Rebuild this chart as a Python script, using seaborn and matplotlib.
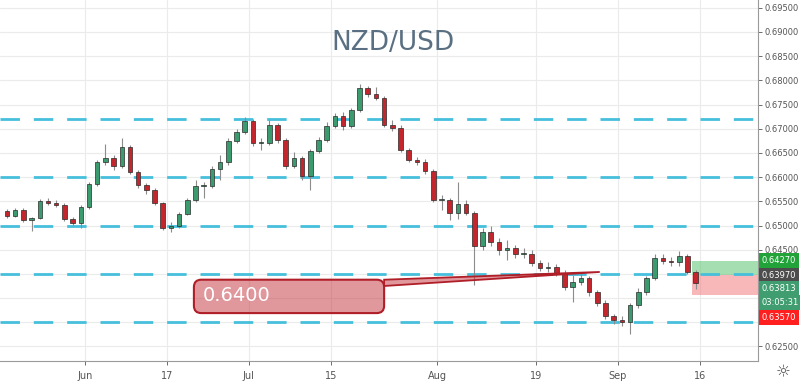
import numpy as np
import pandas as pd
import matplotlib
matplotlib.use("Agg")
import matplotlib.pyplot as plt
import matplotlib.transforms as mtransforms
from matplotlib.patches import FancyBboxPatch, Polygon, Rectangle
from matplotlib.ticker import MultipleLocator, FuncFormatter
import seaborn as sns

# daily NZD/USD candles, 2019-05-20 .. 2019-09-13 (trading days only)
opens = [0.6530, 0.6520, 0.6532, 0.6512, 0.6516, 0.6551, 0.6547, 0.6543, 0.6514, 0.6505,
         0.6538, 0.6586, 0.6631, 0.6640, 0.6623, 0.6662, 0.6611, 0.6584, 0.6574, 0.6547,
         0.6495, 0.6499, 0.6524, 0.6553, 0.6582, 0.6582, 0.6617, 0.6631, 0.6675, 0.6693,
         0.6716, 0.6671, 0.6671, 0.6708, 0.6677, 0.6623, 0.6640, 0.6602, 0.6654, 0.6677,
         0.6706, 0.6726, 0.6706, 0.6739, 0.6784, 0.6772, 0.6764, 0.6708, 0.6702, 0.6656,
         0.6636, 0.6631, 0.6613, 0.6553, 0.6553, 0.6526, 0.6545, 0.6526, 0.6458, 0.6487,
         0.6466, 0.6450, 0.6454, 0.6441, 0.6441, 0.6423, 0.6412, 0.6414, 0.6400, 0.6373,
         0.6383, 0.6392, 0.6363, 0.6340, 0.6313, 0.6305, 0.6301, 0.6336, 0.6363, 0.6392,
         0.6433, 0.6427, 0.6425, 0.6437, 0.6404]
highs = [0.6534, 0.6536, 0.6536, 0.6518, 0.6555, 0.6557, 0.6553, 0.6547, 0.6518, 0.6543,
         0.6590, 0.6636, 0.6669, 0.6646, 0.6681, 0.6667, 0.6615, 0.6588, 0.6578, 0.6549,
         0.6507, 0.6528, 0.6557, 0.6594, 0.6590, 0.6623, 0.6646, 0.6681, 0.6700, 0.6724,
         0.6720, 0.6681, 0.6718, 0.6712, 0.6681, 0.6652, 0.6644, 0.6658, 0.6683, 0.6714,
         0.6733, 0.6735, 0.6743, 0.6793, 0.6788, 0.6786, 0.6768, 0.6718, 0.6708, 0.6660,
         0.6642, 0.6638, 0.6617, 0.6563, 0.6557, 0.6590, 0.6553, 0.6530, 0.6495, 0.6499,
         0.6474, 0.6470, 0.6460, 0.6454, 0.6450, 0.6429, 0.6425, 0.6421, 0.6408, 0.6398,
         0.6404, 0.6396, 0.6367, 0.6346, 0.6317, 0.6313, 0.6340, 0.6371, 0.6396, 0.6441,
         0.6441, 0.6435, 0.6448, 0.6441, 0.6408]
lows = [0.6516, 0.6518, 0.6507, 0.6489, 0.6514, 0.6543, 0.6538, 0.6510, 0.6501, 0.6495,
        0.6534, 0.6582, 0.6625, 0.6615, 0.6619, 0.6607, 0.6578, 0.6565, 0.6543, 0.6491,
        0.6487, 0.6495, 0.6522, 0.6549, 0.6557, 0.6578, 0.6594, 0.6625, 0.6671, 0.6689,
        0.6664, 0.6656, 0.6667, 0.6671, 0.6617, 0.6619, 0.6594, 0.6574, 0.6650, 0.6673,
        0.6702, 0.6698, 0.6702, 0.6735, 0.6766, 0.6759, 0.6704, 0.6695, 0.6652, 0.6631,
        0.6625, 0.6607, 0.6549, 0.6532, 0.6512, 0.6514, 0.6522, 0.6378, 0.6450, 0.6458,
        0.6439, 0.6429, 0.6433, 0.6433, 0.6417, 0.6406, 0.6404, 0.6396, 0.6367, 0.6342,
        0.6377, 0.6355, 0.6334, 0.6307, 0.6297, 0.6293, 0.6276, 0.6330, 0.6357, 0.6388,
        0.6421, 0.6417, 0.6417, 0.6400, 0.6369]
closes = [0.6520, 0.6532, 0.6512, 0.6516, 0.6551, 0.6547, 0.6543, 0.6514, 0.6505, 0.6538,
          0.6586, 0.6631, 0.6640, 0.6623, 0.6662, 0.6611, 0.6584, 0.6574, 0.6547, 0.6495,
          0.6499, 0.6524, 0.6553, 0.6582, 0.6582, 0.6617, 0.6631, 0.6675, 0.6693, 0.6716,
          0.6671, 0.6671, 0.6708, 0.6677, 0.6623, 0.6640, 0.6602, 0.6654, 0.6677, 0.6706,
          0.6726, 0.6706, 0.6739, 0.6784, 0.6772, 0.6764, 0.6708, 0.6702, 0.6656, 0.6636,
          0.6631, 0.6613, 0.6553, 0.6553, 0.6526, 0.6545, 0.6526, 0.6458, 0.6487, 0.6466,
          0.6450, 0.6454, 0.6441, 0.6441, 0.6423, 0.6412, 0.6414, 0.6400, 0.6373, 0.6383,
          0.6392, 0.6363, 0.6340, 0.6313, 0.6305, 0.6301, 0.6336, 0.6363, 0.6392, 0.6433,
          0.6427, 0.6425, 0.6437, 0.6404, 0.6381]

tick_dates = ["2019-06-03", "2019-06-17", "2019-07-01", "2019-07-15",
              "2019-08-01", "2019-08-19", "2019-09-02", "2019-09-16"]
tick_labels = ["Jun", "17", "Jul", "15", "Aug", "19", "Sep", "16"]

levels = [0.6720, 0.6600, 0.6500, 0.6400, 0.6300]
callout_text = "0.6400"
target_price, stop_price, entry_price = 0.6427, 0.6357, 0.6397

side_labels = ["0.64270", "0.63970", "0.63813", "03:05:31", "0.63570"]
side_colors = ["#22a33a", "#4d4d4d", "#3f9d70", "#3f9d70", "#ff1f1f"]
side_label_y = [0.6427, 0.6397, 0.6370, 0.6341, 0.6310]
hidden_ticks = [0.640, 0.635, 0.630]   # covered by the price labels

days = pd.bdate_range("2019-05-20", "2019-09-30")
df = pd.DataFrame({"open": opens, "high": highs, "low": lows, "close": closes})
df["x"] = np.arange(len(df))
df["up"] = df["close"] >= df["open"]

sns.set_theme(style="white")
plt.rcParams["font.family"] = ["DejaVu Sans"]

fig = plt.figure(figsize=(8, 3.81), dpi=100)
ax = fig.add_axes([0, 20 / 381, 758 / 800, 361 / 381])

tick_pos = [days.get_loc(pd.Timestamp(d)) - 0.5 for d in tick_dates]

# grid
for tp in tick_pos:
    ax.axvline(tp, color="#ebebeb", lw=0.8, zorder=0)
ax.yaxis.set_major_locator(MultipleLocator(0.005))
ax.grid(axis="y", color="#ebebeb", lw=0.8)
ax.set_axisbelow(True)

# levels
for lv in levels:
    ax.axhline(lv, color="#45bfdc", lw=2.0, dashes=(7, 5), zorder=3)

# candles
ax.vlines(df["x"], df["low"], df["high"], color="#8c8c8c", lw=0.8, zorder=4)
body = (df["close"] - df["open"]).abs().clip(lower=0.00012)
ax.bar(df["x"], body, bottom=df[["open", "close"]].min(axis=1), width=0.55,
       color=np.where(df["up"], "#3b9a6e", "#c4262e"), edgecolor="#2a2a2a",
       linewidth=0.5, zorder=5)

ax.set_xlim(-0.85, 91.6)
ax.set_ylim(0.6220, 0.6966)

# risk/reward boxes
x0 = 83.6
ax.add_patch(Rectangle((x0, entry_price), 91.6 - x0, target_price - entry_price,
                       facecolor="#5cc46f", alpha=0.55, lw=0, zorder=2))
ax.add_patch(Rectangle((x0, stop_price), 91.6 - x0, entry_price - stop_price,
                       facecolor="#f47c80", alpha=0.55, lw=0, zorder=2))

# callout
asp = 0.0002066 * 8.2
box_x0, box_x1, box_y0, box_y1 = 22.8, 46.0, 0.6319, 0.6388
ax.add_patch(FancyBboxPatch((box_x0, box_y0), box_x1 - box_x0, box_y1 - box_y0,
                            boxstyle="round,pad=0,rounding_size=0.9",
                            mutation_aspect=asp, facecolor=(0.77, 0.2, 0.24, 0.5),
                            edgecolor="#b01e28", lw=1.5, zorder=6))
ax.add_patch(Polygon([(box_x1, box_y1), (box_x1, 0.6375), (72.3, 0.6404)],
                     closed=True, facecolor=(0.77, 0.2, 0.24, 0.5),
                     edgecolor="#b01e28", lw=1.3, zorder=6))
ax.text(23.9, 0.63545, callout_text, color="white", fontsize=14, va="center",
        ha="left", zorder=7)

# title
ax.text(0.519, 0.881, "NZD/USD", transform=ax.transAxes, ha="center", va="center",
        fontsize=19, color="#5a6f82")

# axes styling
for s in ["top", "left"]:
    ax.spines[s].set_visible(False)
for s in ["right", "bottom"]:
    ax.spines[s].set_color("#9a9a9a")
    ax.spines[s].set_linewidth(0.8)
ax.yaxis.tick_right()
ax.yaxis.set_major_formatter(FuncFormatter(
    lambda v, p: "" if any(abs(v - h) < 1e-6 for h in hidden_ticks) else f"{v:.5f}"))
ax.tick_params(axis="y", labelsize=6.0, colors="#555555", length=3, width=0.6,
               pad=2, right=True, left=False)
ax.set_xticks(tick_pos)
ax.set_xticklabels(tick_labels)
ax.tick_params(axis="x", labelsize=7, colors="#555555", length=3, width=0.6,
               pad=4, bottom=True)

# price labels on the right axis
blend = mtransforms.blended_transform_factory(ax.transAxes, ax.transData)
for txt, col, yv in zip(side_labels, side_colors, side_label_y):
    ax.text(1.005, yv, txt, transform=blend, color="white", fontsize=6.0,
            ha="left", va="center", clip_on=False, zorder=10,
            bbox=dict(boxstyle="square,pad=0.35", fc=col, ec="none"))

fig.text(783 / 800, 1 - 372 / 381, "☼", ha="center", va="center",
         fontsize=12, color="#555555")

fig.savefig("out.png", dpi=100)
